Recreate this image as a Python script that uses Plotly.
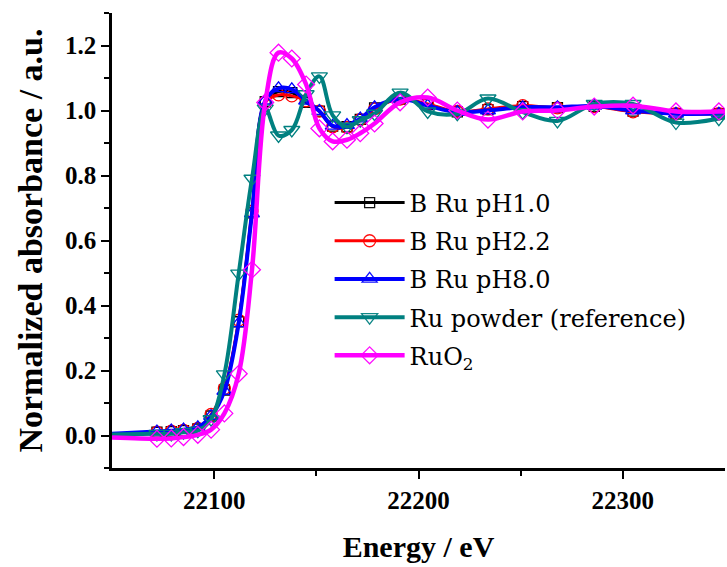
import plotly.graph_objects as go

energy = [22050, 22072, 22079, 22085, 22092, 22098.5, 22105, 22112, 22118.5, 22125,
          22131.5, 22138, 22145, 22151.5, 22158, 22165, 22171.5, 22178.5, 22191, 22204.5,
          22219, 22234, 22251, 22268, 22286, 22305, 22326, 22347, 22350]

ph10 = [0.004, 0.010, 0.012, 0.015, 0.020, 0.060, 0.140, 0.350, 0.685, 1.027,
        1.058, 1.055, 1.025, 0.998, 0.952, 0.950, 0.973, 1.008, 1.035, 1.018,
        0.996, 1.003, 1.012, 1.009, 1.013, 0.998, 0.990, 0.990, 0.990]
ph22 = [0.004, 0.010, 0.013, 0.016, 0.022, 0.065, 0.145, 0.355, 0.690, 1.025,
        1.048, 1.045, 1.030, 0.998, 0.950, 0.948, 0.972, 1.005, 1.035, 1.020,
        0.997, 1.005, 1.015, 1.008, 1.012, 0.996, 0.990, 0.990, 0.990]
ph80 = [0.005, 0.012, 0.015, 0.018, 0.025, 0.060, 0.137, 0.345, 0.683, 1.030,
        1.068, 1.065, 1.030, 0.998, 0.953, 0.955, 0.975, 1.010, 1.036, 1.015,
        0.995, 1.000, 1.010, 1.010, 1.014, 1.000, 0.990, 0.990, 0.990]
ru_powder = [0.003, 0.005, 0.005, 0.010, 0.015, 0.050, 0.188, 0.498, 0.790, 1.006,
             0.923, 0.940, 1.050, 1.105, 0.985, 0.950, 0.970, 0.990, 1.055, 0.997,
             0.990, 1.037, 0.995, 0.968, 1.020, 1.020, 0.963, 0.975, 0.980]
ruo2 = [-0.006, -0.010, -0.009, -0.005, 0.002, 0.018, 0.068, 0.190, 0.510, 1.025,
        1.178, 1.160, 1.080, 0.945, 0.905, 0.910, 0.930, 0.960, 1.025, 1.040,
        1.000, 0.972, 0.997, 1.000, 1.012, 1.015, 0.997, 0.997, 0.997]

names = ["B Ru pH1.0", "B Ru pH2.2", "B Ru pH8.0", "Ru powder (reference)", "RuO<sub>2</sub>"]
colors = ["#000000", "#FF0000", "#0000FF", "#008080", "#FF00FF"]
symbols = ["square-open", "circle-open", "triangle-up-open", "triangle-down-open", "diamond-open"]
sizes = [10, 12, 13, 14, 13]
widths = [3, 3, 4, 4, 4.5]
series = [ph10, ph22, ph80, ru_powder, ruo2]

# markers are not drawn on the first (flat baseline) and last (edge) points
mop = [0] + [1] * (len(energy) - 2) + [0]

fig = go.Figure()
for i, (nm, col, sym, sz, lw, ys) in enumerate(zip(names, colors, symbols, sizes, widths, series)):
    fig.add_trace(go.Scatter(
        x=energy, y=ys, name=nm, mode="lines+markers", legendgroup=f"g{i}",
        line=dict(color=col, width=lw, shape="spline", smoothing=1.0),
        marker=dict(symbol=sym, size=sz, color=col, opacity=mop,
                    line=dict(color=col, width=1.3)),
    ))

SERIF = "Liberation Serif"
tickfont = dict(family=SERIF, size=25, color="black", weight="bold")
xtitlefont = dict(family=SERIF, size=30, color="black", weight="bold")
ytitlefont = dict(family=SERIF, size=34, color="black", weight="bold")

fig.update_layout(
    width=727, height=567,
    font=dict(family=SERIF, color="black"),
    margin=dict(l=112, r=2, t=13, b=99, autoexpand=False),
    paper_bgcolor="white", plot_bgcolor="white",
    showlegend=True,
    legend=dict(x=0.355, y=0.632, xanchor="left", yanchor="top",
                bgcolor="rgba(0,0,0,0)", borderwidth=0,
                font=dict(family="DejaVu Serif", size=24, color="black"),
                itemwidth=70, tracegroupgap=4),
    xaxis=dict(range=[22050, 22350], tickvals=[22100, 22200, 22300],
               ticktext=["22100", "22200", "22300"], automargin=False,
               showline=True, linecolor="black", linewidth=2.5,
               ticks="outside", ticklen=8, tickwidth=2, tickcolor="black",
               minor=dict(tickvals=[22150, 22250], ticks="outside", ticklen=5,
                          tickwidth=2, tickcolor="black"),
               showgrid=False, zeroline=False, tickfont=tickfont,
               title=dict(text="Energy / eV", font=xtitlefont, standoff=24)),
    yaxis=dict(range=[-0.1, 1.3], tickvals=[0.0, 0.2, 0.4, 0.6, 0.8, 1.0, 1.2],
               ticktext=["0.0", "0.2", "0.4", "0.6", "0.8", "1.0", "1.2"], automargin=False,
               showline=True, linecolor="black", linewidth=2.5,
               ticks="outside", ticklen=8, tickwidth=2, tickcolor="black",
               minor=dict(tickvals=[-0.1, 0.1, 0.3, 0.5, 0.7, 0.9, 1.1, 1.3],
                          ticks="outside", ticklen=5, tickwidth=2, tickcolor="black"),
               showgrid=False, zeroline=False, tickfont=tickfont,
               title=dict(text="Normalized absorbance / a.u.", font=ytitlefont, standoff=13)),
)

fig.write_html("out.html", config={"displayModeBar": False},
               post_script="document.body.style.margin='0';document.body.style.overflow='hidden';")
